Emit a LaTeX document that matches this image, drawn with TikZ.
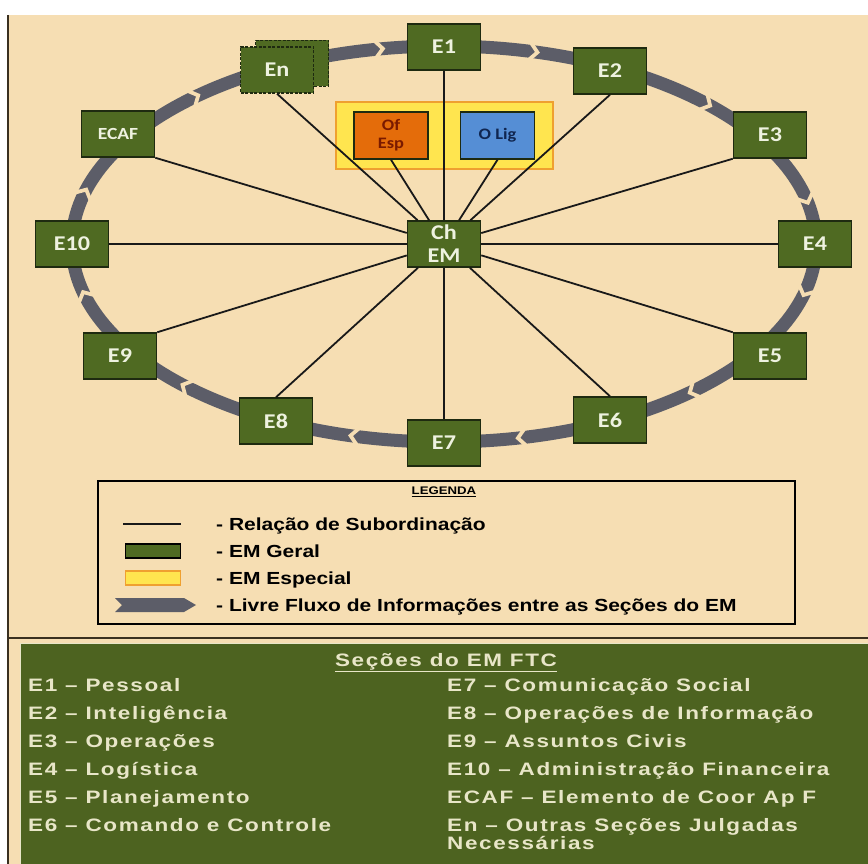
\documentclass[tikz,border=0pt]{standalone}
\usepackage{fontspec}
\setmainfont{Carlito}[FakeStretch=1.15]
\newfontfamily\legfont{Liberation Sans}[FakeStretch=1.2]
\newfontfamily\panfont{Liberation Sans}[FakeStretch=1.25,LetterSpace=9]
\definecolor{bg}{HTML}{F6DEB3}
\definecolor{boxg}{HTML}{4F6A22}
\definecolor{boxb}{HTML}{1E2A10}
\definecolor{txt}{HTML}{EEF2E0}
\definecolor{band}{HTML}{5C5D68}
\definecolor{yel}{HTML}{FFE54F}
\definecolor{yelb}{HTML}{EFA030}
\definecolor{ora}{HTML}{E46C0A}
\definecolor{oratx}{HTML}{7A1A00}
\definecolor{blu}{HTML}{558ED5}
\definecolor{blutx}{HTML}{102650}
\definecolor{panel}{HTML}{4D6320}
\definecolor{cream}{HTML}{E8E6C8}
\definecolor{frame}{HTML}{3A3020}
\begin{document}
\begin{tikzpicture}[x=1pt,y=1pt,
  sec/.style={draw=boxb, line width=1.5, fill=boxg, text=txt,
    font=\bfseries\fontsize{21}{23}\selectfont, minimum width=73, minimum height=46,
    inner sep=0, align=center},
  spec/.style={sec, minimum width=74, minimum height=47, font=\bfseries\fontsize{16}{18}\selectfont},
  link/.style={line width=1.8, draw=black!90},
  legtext/.style={anchor=base west, font=\legfont\bfseries\fontsize{17.5}{20}\selectfont, inner sep=0},
  pantext/.style={anchor=base west, text=cream, font=\panfont\bfseries\fontsize{18}{19}\selectfont, inner sep=0}]
\useasboundingbox (0,0) rectangle (868,-864);
% background
\fill[bg] (8,-15) rectangle (868,-864);
\draw[frame, line width=1.5] (8,-15) -- (8,-864);
% information-flow band
\draw[band, line width=13] (444,-244) ellipse [x radius=372, y radius=198];
\foreach \a in {100,76,45,13,-14,-48,-78,-104,-134,-165,165,132}{
  \pgfmathsetmacro\ang{atan2(-198*cos(\a),372*sin(\a))}
  \fill[bg, shift={({444+372*cos(\a)},{-244+198*sin(\a)})}, rotate=\ang]
    (-7,9) -- (1,0) -- (-7,-9) -- (-2,-9) -- (6,0) -- (-2,9) -- cycle;
}
% special staff box
\node[draw=yelb, fill=yel, line width=1.5, minimum width=217, minimum height=67, inner sep=0] (esp) at (444.5,-135.5) {};
% nodes
\node[sec] (ch) at (444,-244) {Ch\\EM};
\node[sec] (e1) at (444,-47) {E1};
\node[sec] (e2) at (610,-71) {E2};
\node[sec] (e3) at (770,-135) {E3};
\node[sec] (e4) at (815,-244) {E4};
\node[sec] (e5) at (770,-356) {E5};
\node[sec] (e6) at (610,-420) {E6};
\node[sec] (e7) at (444,-443) {E7};
\node[sec] (e8) at (276,-421) {E8};
\node[sec] (e9) at (120,-356) {E9};
\node[sec] (e10) at (72,-244) {E10};
\node[sec, font=\bfseries\fontsize{17}{19}\selectfont] (ecaf) at (118,-134) {ECAF};
\node[sec, dashed, dash pattern=on 3pt off 1.5pt] (enb) at (292,-63.5) {};
\node[sec, dashed, dash pattern=on 3pt off 1.5pt] (en) at (277,-70) {En};
\node[spec, fill=ora, text=oratx] (of) at (391,-135.5) {Of\\Esp};
\node[spec, fill=blu, text=blutx] (olig) at (497.5,-135.5) {O Lig};
% subordination lines
\draw[link] (ch) -- (e1);
\draw[link] (ch) -- (e2.south);
\draw[link] (ch) -- (e3.south west);
\draw[link] (ch) -- (e4);
\draw[link] (ch) -- (e5.north west);
\draw[link] (ch) -- (e6.north);
\draw[link] (ch) -- (e7);
\draw[link] (ch) -- (e8.north);
\draw[link] (ch) -- (e9.north east);
\draw[link] (ch) -- (e10);
\draw[link] (ch) -- (ecaf.south east);
\draw[link] (ch) -- (en.south);
\draw[link] (ch) -- (of.south);
\draw[link] (ch) -- (olig.south);
% legend
\node[draw=black, line width=1.6, minimum width=697, minimum height=143, anchor=north west, inner sep=0] (leg) at (97,-480) {};
\node[font=\legfont\bfseries\fontsize{11}{12}\selectfont, inner sep=0] (legt) at (444,-492) {\underline{LEGENDA}};
\coordinate (la) at (123,-524);
\coordinate (lb) at (181,-524);
\draw[link] (la) -- (lb);
\node[draw=black, line width=1.5, fill=boxg, minimum width=55, minimum height=14, inner sep=0] (lg) at (153,-551) {};
\node[draw=yelb, line width=1.5, fill=yel, minimum width=55, minimum height=14, inner sep=0] (ly) at (153,-578) {};
\fill[band] (115,-598) -- (184,-598) -- (196,-605) -- (184,-612) -- (115,-612) -- (122,-605) -- cycle;
\node[legtext] (t1) at (216,-530) {- Relação de Subordinação};
\node[legtext] (t2) at (216,-557) {- EM Geral};
\node[legtext] (t3) at (216,-584) {- EM Especial};
\node[legtext] (t4) at (216,-611) {- Livre Fluxo de Informações entre as Seções do EM};
% sections panel
\draw[frame, line width=1.8] (8,-638) -- (868,-638);
\draw[cream, line width=1, fill=panel] (20,-643) rectangle (870,-866);
\node[pantext, anchor=base] (pt) at (446,-666) {\underline{Seções do EM FTC}};
\node[pantext] (a1) at (28,-691) {E1 – Pessoal};
\node[pantext] (a2) at (28,-719) {E2 – Inteligência};
\node[pantext] (a3) at (28,-747) {E3 – Operações};
\node[pantext] (a4) at (28,-775) {E4 – Logística};
\node[pantext] (a5) at (28,-803) {E5 – Planejamento};
\node[pantext] (a6) at (28,-831) {E6 – Comando e Controle};
\node[pantext] (b1) at (447,-691) {E7 – Comunicação Social};
\node[pantext] (b2) at (447,-719) {E8 – Operações de Informação};
\node[pantext] (b3) at (447,-747) {E9 – Assuntos Civis};
\node[pantext] (b4) at (447,-775) {E10 – Administração Financeira};
\node[pantext] (b5) at (447,-803) {ECAF – Elemento de Coor Ap F};
\node[pantext] (b6) at (447,-831) {En – Outras Seções Julgadas};
\node[pantext] (b7) at (447,-849) {Necessárias};
\end{tikzpicture}
\end{document}
